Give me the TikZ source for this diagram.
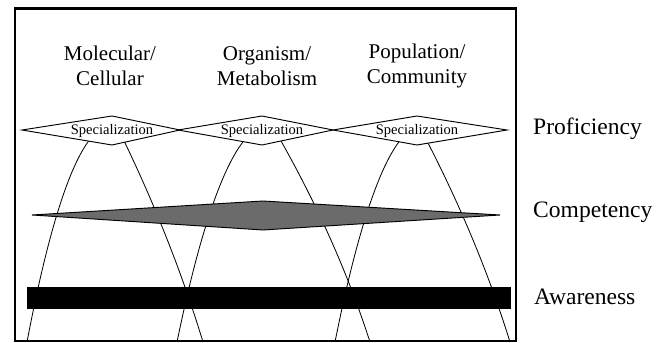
\documentclass[tikz,border=0pt]{standalone}
\usepackage{fontspec}
\setmainfont{Liberation Serif}
\begin{document}
\begin{tikzpicture}[x=0.03cm,y=-0.03cm]
\tikzstyle{arch}=[line width=0.7pt]
\tikzstyle{spec}=[draw,line width=0.8pt,fill=white]
\tikzstyle{spectext}=[anchor=base,inner sep=0pt,font=\fontsize{12.4}{14}\selectfont]
\tikzstyle{level}=[anchor=base west,inner sep=0pt,font=\fontsize{20.1}{24}\selectfont]
\tikzstyle{field}=[align=center,inner sep=0pt,font=\fontsize{17.9}{21.6}\selectfont]
\useasboundingbox (0,0) rectangle (667,343);

% the three arches, each hanging from its diamond
\draw[arch] (110,126.6) parabola (27,342);
\draw[arch] (121.7,136) .. controls (155,204.7) and (182.1,273.3) .. (203,342);
\draw[arch] (267.3,126) parabola (177,342);
\draw[arch] (278.2,136) .. controls (317.3,204.7) and (347.9,273.3) .. (370,342);
\draw[arch] (422.5,126) parabola (335,342);
\draw[arch] (424.4,136) .. controls (460.1,204.7) and (488.7,273.3) .. (510,342);

\draw[line width=0.8pt,fill=black!58] (32,215) -- (263,201) -- (500,215) -- (263,230) -- cycle;
\fill (27,287) rectangle (511,309);

\draw[spec] (22,130) -- (112,116) -- (180,130) -- (112,145) -- cycle;
\draw[spec] (178,130) -- (262,116) -- (333,130) -- (262,145) -- cycle;
\draw[spec] (333,130) -- (417,116) -- (507,130) -- (417,145) -- cycle;
\node[spectext] (s1) at (112,135) {Specialization};
\node[spectext] (s2) at (262,135) {Specialization};
\node[spectext] (s3) at (417,135) {Specialization};

\node[field] (mol) at (110,66) {Molecular/\\Cellular};
\node[field] (org) at (267,66) {Organism/\\Metabolism};
\node[field] (pop) at (417,66) {Population/\\Community};

\node[level] (prof) at (533,135) {Proficiency};
\node[level] (comp) at (533,218) {Competency};
\node[level] (aware) at (534,305) {Awareness};

\draw[line width=2.4pt] (15,8.5) rectangle (516,341);
\end{tikzpicture}
\end{document}
